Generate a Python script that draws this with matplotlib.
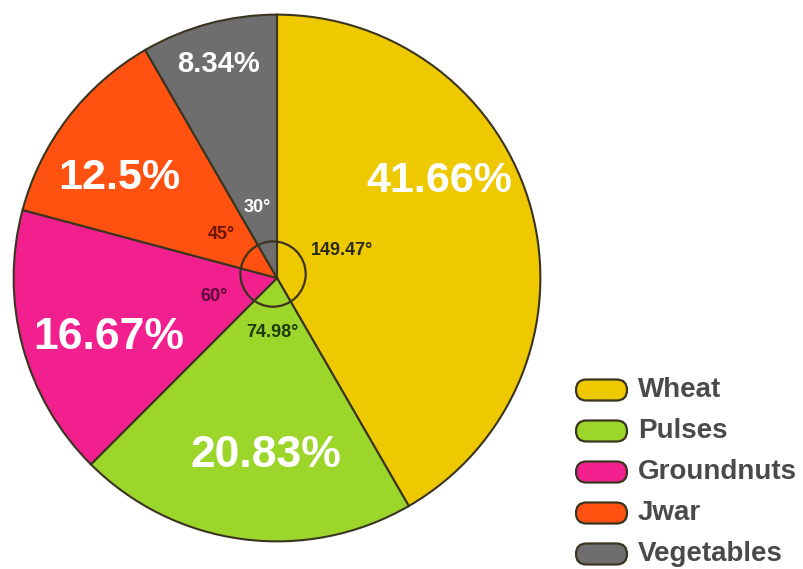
import matplotlib.pyplot as plt
from matplotlib.patches import Circle, FancyBboxPatch

# data
crops = ["Wheat", "Pulses", "Groundnuts", "Jwar", "Vegetables"]
percents = [41.66, 20.83, 16.67, 12.5, 8.34]
degrees = ["149.47°", "74.98°", "60°", "45°", "30°"]
colors = ["#EEC900", "#9DD62B", "#F2208E", "#FF5210", "#6E6E6E"]

# label placement (data units, pie radius = 1)
pct_pos = [(0.617, 0.368), (-0.041, -0.673), (-0.639, -0.226), (-0.598, 0.380), (-0.222, 0.812)]
pct_size = [31, 32, 32, 31, 21]
deg_pos = [(0.248, 0.105), (-0.019, -0.207), (-0.240, -0.071), (-0.211, 0.165), (-0.075, 0.267)]
deg_colors = ["#2a2a18", "#1d3a0e", "#5a0838", "#6a1505", "white"]

edge = "#3a3420"
fonts = ["Liberation Sans", "DejaVu Sans"]

fig = plt.figure(figsize=(8.04, 5.69), dpi=100)

# pie axes: centre at (277, 278) px, radius 266 px
cx, cy, r = 277, 278, 266
ax = fig.add_axes([(cx - r) / 804, (569 - cy - r) / 569, 2 * r / 804, 2 * r / 569])
ax.pie(percents, colors=colors, startangle=90, counterclock=False, radius=1,
       wedgeprops=dict(edgecolor=edge, linewidth=1.5))
ax.set_xlim(-1.01, 1.01)
ax.set_ylim(-1.01, 1.01)
ax.set_aspect("auto")
ax.axis("off")

ax.add_patch(Circle((-0.015, 0.015), 0.124, fill=False, edgecolor=edge, linewidth=1.6, zorder=5))

for (x, y), txt, fs in zip(pct_pos, percents, pct_size):
    ax.text(x, y, f"{txt:g}%", color="white", fontsize=fs, fontweight="bold",
            ha="center", va="center", family=fonts)

for (x, y), txt, c in zip(deg_pos, degrees, deg_colors):
    ax.text(x, y, txt, color=c, fontsize=13, fontweight="bold",
            ha="center", va="center", family=fonts)

# legend drawn in pixel coordinates
lg = fig.add_axes([0, 0, 1, 1])
lg.set_xlim(0, 804)
lg.set_ylim(569, 0)
lg.axis("off")
row_y = 390
for name, c in zip(crops, colors):
    lg.add_patch(FancyBboxPatch((576, row_y - 10.5), 51, 21,
                                boxstyle="round,pad=0,rounding_size=10.5",
                                facecolor=c, edgecolor="#3a3420", linewidth=1.6))
    lg.text(638, row_y, name, fontsize=20, fontweight="bold", color="#4a4a4a",
            ha="left", va="center", family=fonts)
    row_y += 41

fig.savefig("out.png", dpi=100)
